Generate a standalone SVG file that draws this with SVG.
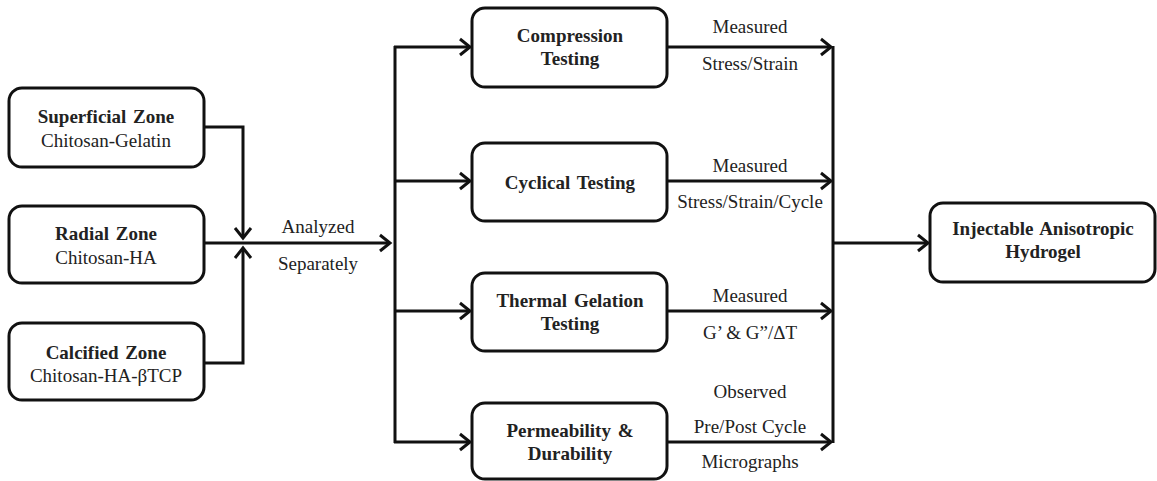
<svg xmlns="http://www.w3.org/2000/svg" width="1157" height="481" viewBox="0 0 1157 481">
<defs>
<marker id="arr" markerUnits="userSpaceOnUse" markerWidth="16" markerHeight="20" refX="13" refY="10" orient="auto">
<path d="M3,2 L13,10 L3,18" fill="none" stroke="#111" stroke-width="3"/>
</marker>
<style>
.box{fill:#fff;stroke:#111;stroke-width:3}
.ln{fill:none;stroke:#111;stroke-width:3}
.t{font-family:"Liberation Serif","Times New Roman",serif;font-size:19px;fill:#222;text-anchor:middle}
.b{font-weight:bold;word-spacing:2px}
</style>
</defs>
<rect width="1157" height="481" fill="#fff"/>
<g id="connectors">
<polyline class="ln" points="204,127 243,127 243,238" marker-end="url(#arr)"/>
<polyline class="ln" points="204,363 243,363 243,248" marker-end="url(#arr)"/>
<line class="ln" x1="204" y1="243" x2="390" y2="243" marker-end="url(#arr)"/>
<line class="ln" x1="395" y1="46" x2="395" y2="443"/>
<line class="ln" x1="394" y1="47" x2="470" y2="47" marker-end="url(#arr)"/>
<line class="ln" x1="394" y1="181" x2="470" y2="181" marker-end="url(#arr)"/>
<line class="ln" x1="394" y1="311" x2="470" y2="311" marker-end="url(#arr)"/>
<line class="ln" x1="394" y1="442" x2="470" y2="442" marker-end="url(#arr)"/>
<line class="ln" x1="667" y1="47" x2="831" y2="47" marker-end="url(#arr)"/>
<line class="ln" x1="667" y1="181" x2="831" y2="181" marker-end="url(#arr)"/>
<line class="ln" x1="667" y1="311" x2="831" y2="311" marker-end="url(#arr)"/>
<line class="ln" x1="667" y1="442" x2="831" y2="442" marker-end="url(#arr)"/>
<line class="ln" x1="833" y1="46" x2="833" y2="443"/>
<line class="ln" x1="833" y1="243" x2="928" y2="243" marker-end="url(#arr)"/>
<text class="t" x="318" y="233">Analyzed</text>
<text class="t" x="318" y="270">Separately</text>
<text class="t" x="750" y="33">Measured</text>
<text class="t" x="750" y="70">Stress/Strain</text>
<text class="t" x="750" y="172">Measured</text>
<text class="t" x="750" y="208">Stress/Strain/Cycle</text>
<text class="t" x="750" y="302">Measured</text>
<text class="t" x="750" y="339">G’ &amp; G”/ΔT</text>
<text class="t" x="750" y="398">Observed</text>
<text class="t" x="750" y="433">Pre/Post Cycle</text>
<text class="t" x="750" y="468">Micrographs</text>
</g>
<g id="superficial">
<rect class="box" x="9" y="88" width="195" height="79" rx="13"/>
<text class="t b" x="106" y="123">Superficial Zone</text>
<text class="t" x="106" y="147">Chitosan-Gelatin</text>
</g>
<g id="radial">
<rect class="box" x="9" y="206" width="195" height="77" rx="13"/>
<text class="t b" x="106" y="240">Radial Zone</text>
<text class="t" x="106" y="264">Chitosan-HA</text>
</g>
<g id="calcified">
<rect class="box" x="9" y="323" width="195" height="77" rx="13"/>
<text class="t b" x="106" y="359">Calcified Zone</text>
<text class="t" x="106" y="382">Chitosan-HA-βTCP</text>
</g>
<g id="compression">
<rect class="box" x="472" y="8" width="195" height="79" rx="13"/>
<text class="t b" x="570" y="42">Compression</text>
<text class="t b" x="570" y="65">Testing</text>
</g>
<g id="cyclical">
<rect class="box" x="472" y="143" width="195" height="78" rx="13"/>
<text class="t b" x="570" y="189">Cyclical Testing</text>
</g>
<g id="thermal">
<rect class="box" x="472" y="273" width="195" height="78" rx="13"/>
<text class="t b" x="570" y="307">Thermal Gelation</text>
<text class="t b" x="570" y="330">Testing</text>
</g>
<g id="permeability">
<rect class="box" x="472" y="403" width="195" height="76" rx="13"/>
<text class="t b" x="570" y="437">Permeability &amp;</text>
<text class="t b" x="570" y="460">Durability</text>
</g>
<g id="hydrogel">
<rect class="box" x="930" y="203" width="225" height="79" rx="13"/>
<text class="t b" x="1043" y="235">Injectable Anisotropic</text>
<text class="t b" x="1043" y="258">Hydrogel</text>
</g>
</svg>
